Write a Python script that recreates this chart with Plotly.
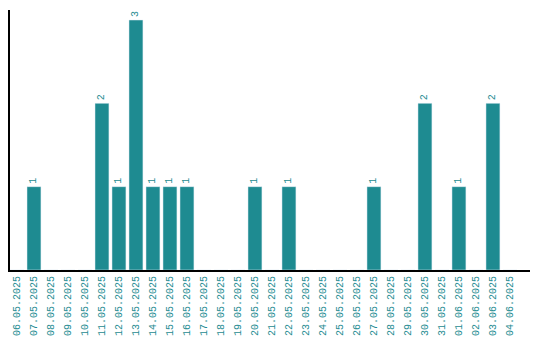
import plotly.graph_objects as go

dates = ["06.05.2025","07.05.2025","08.05.2025","09.05.2025","10.05.2025","11.05.2025","12.05.2025",
         "13.05.2025","14.05.2025","15.05.2025","16.05.2025","17.05.2025","18.05.2025","19.05.2025",
         "20.05.2025","21.05.2025","22.05.2025","23.05.2025","24.05.2025","25.05.2025","26.05.2025",
         "27.05.2025","28.05.2025","29.05.2025","30.05.2025","31.05.2025","01.06.2025","02.06.2025",
         "03.06.2025","04.06.2025"]
values = [0,1,0,0,0,2,1,3,1,1,1,0,0,0,1,0,1,0,0,0,0,1,0,0,2,0,1,0,2,0]

color = "#1e8b91"
font = "Liberation Mono"
texts = [str(v) if v > 0 else "" for v in values]

fig = go.Figure(go.Bar(
    x=list(range(len(dates))), y=values, marker_color=color, width=0.82,
    text=texts, textposition="outside", textangle=-90, cliponaxis=False,
    textfont=dict(family=font, size=10, color=color),
))
fig.update_layout(
    width=540, height=340, margin=dict(l=10, r=10, t=10, b=70, autoexpand=False),
    plot_bgcolor="white", paper_bgcolor="white", showlegend=False,
    xaxis=dict(tickmode="array", tickvals=list(range(len(dates))), ticktext=dates,
               tickangle=-90, range=[-0.41, 30.18], showline=True, linecolor="black",
               linewidth=2, showgrid=False, ticks="", zeroline=False, automargin=False,
               tickfont=dict(family=font, size=10, color=color)),
    yaxis=dict(range=[0, 3.12], showline=True, linecolor="black", linewidth=2,
               showgrid=False, showticklabels=False, ticks="", zeroline=False,
               automargin=False),
)
fig.write_html("out.html", config={"displayModeBar": False},
               post_script="document.body.style.margin='0';")
